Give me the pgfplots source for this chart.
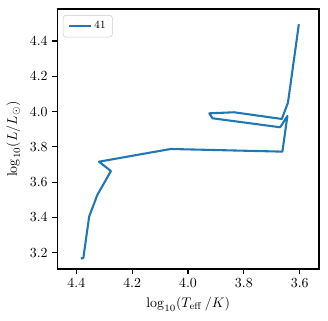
\documentclass[border=0pt]{standalone}
\usepackage{pgfplots}
\pgfplotsset{compat=1.18}
\definecolor{mplblue}{HTML}{1F77B4}
\begin{document}
\begin{tikzpicture}
\begin{axis}[
  scale only axis,
  width=188.4pt, height=187.2pt,
  at={(0,0)}, anchor=south west,
  x dir=reverse,
  xmin=3.531, xmax=4.468,
  ymin=3.108, ymax=4.581,
  xtick={3.6,3.8,4.0,4.2,4.4},
  ytick={3.2,3.4,3.6,3.8,4.0,4.2,4.4},
  xticklabel style={/pgf/number format/.cd,fixed,fixed zerofill,precision=1},
  yticklabel style={/pgf/number format/.cd,fixed,fixed zerofill,precision=1},
  tick align=outside, tick pos=left,
  major tick length=3.5pt,
  every tick/.style={black, line width=0.8pt},
  axis line style={line width=0.8pt},
  tick label style={font=\fontsize{10}{12}\selectfont},
  label style={font=\fontsize{10}{12}\selectfont},
  xlabel={$\log_{10}(T_{\rm eff}\,/K)$},
  ylabel={$\log_{10}(L/L_\odot)$},
  legend image code/.code={\draw[#1] (0pt,0pt) -- (16pt,0pt);},
  legend style={font=\fontsize{8}{9}\selectfont, draw=black!20, rounded corners=2pt, fill=white, fill opacity=0.8, text opacity=1,
    at={(0,1)}, anchor=north west, xshift=4pt, yshift=-4.3pt,
    inner xsep=3.5pt, inner ysep=3.2pt, nodes={inner sep=1.2pt},
    /tikz/every even column/.append style={column sep=6pt}},
  legend cell align=left,
]
\addplot[mplblue, line width=1.5pt, line join=round] coordinates {
(4.384,3.169) (4.375,3.169) (4.354,3.405) (4.325,3.527) (4.276,3.663)
(4.319,3.716) (4.062,3.788) (3.662,3.773) (3.644,3.975) (3.670,3.911)
(3.9125,3.962) (3.924,3.990) (3.835,3.996) (3.664,3.958) (3.642,4.051)
(3.603,4.495)
};
\addlegendentry{41}
\end{axis}
\pgfresetboundingbox
\path[use as bounding box] (-41.3pt,-37.4pt) rectangle (194.9pt,193.7pt);
\end{tikzpicture}
\end{document}
